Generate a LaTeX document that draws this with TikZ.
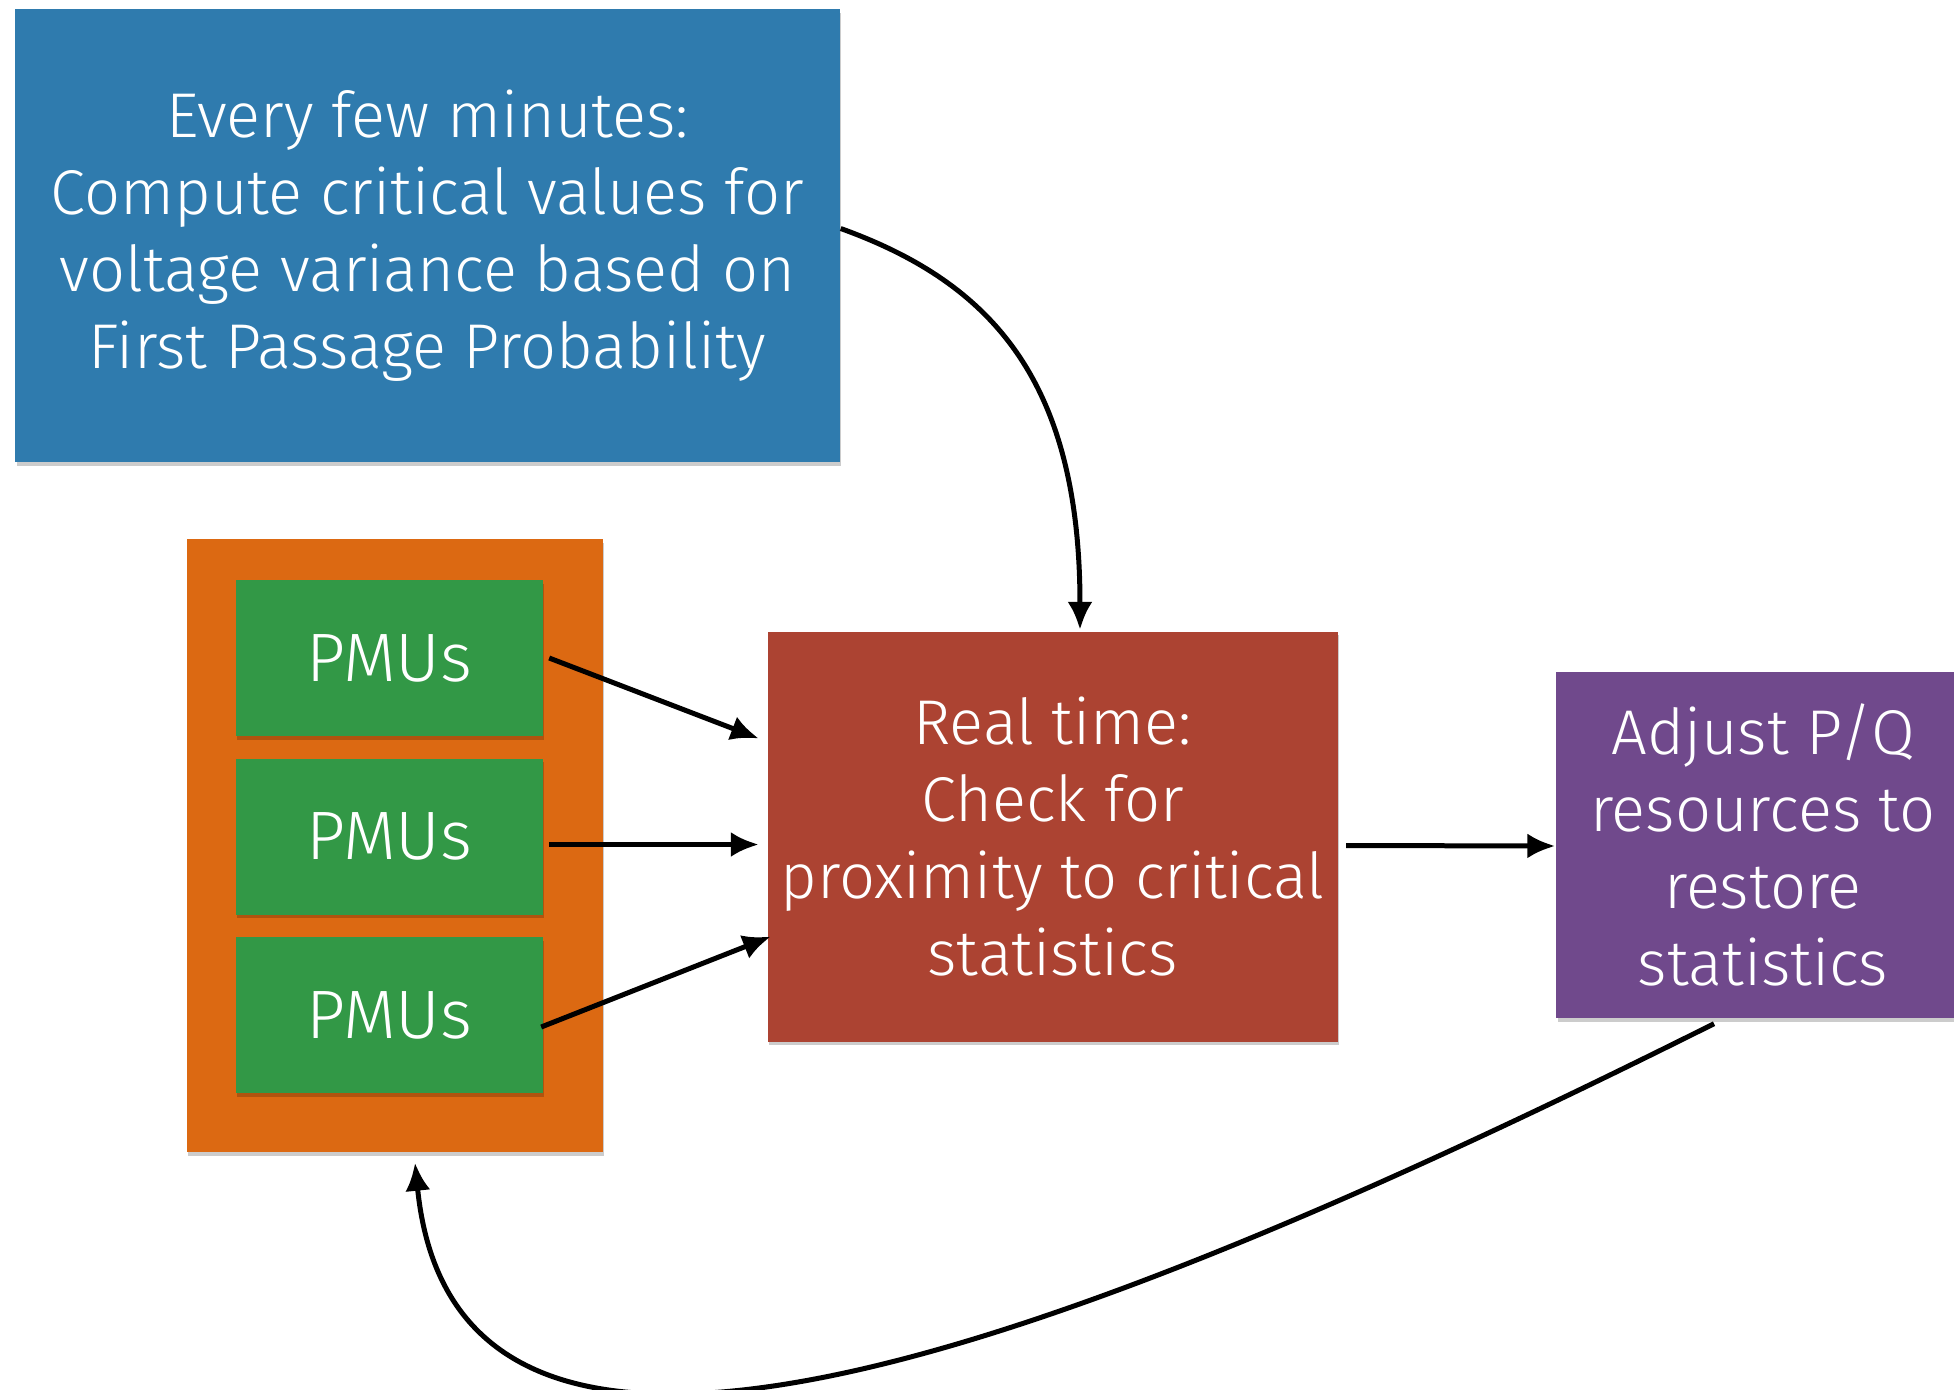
\documentclass[tikz,border=0pt]{standalone}
\usepackage{fontspec}
\setmainfont{Fira Sans Light}
\usepackage{tikz}
\usetikzlibrary{arrows.meta,shadows}

\definecolor{boxblue}{RGB}{47,123,174}
\definecolor{boxorange}{RGB}{220,105,18}
\definecolor{boxgreen}{RGB}{50,152,70}
\definecolor{boxred}{RGB}{172,67,50}
\definecolor{boxpurple}{RGB}{112,73,140}

\begin{document}
\begin{tikzpicture}[x=0.1mm, y=-0.1mm,
    box/.style={rectangle, inner sep=0pt, text=white, align=center,
      font=\fontsize{18}{21.9}\selectfont,
      drop shadow={shadow xshift=0.15mm, shadow yshift=-0.35mm, opacity=0.2, fill=black}},
    flow/.style={-{Latex[length=2.8mm,width=2.5mm]}, line width=0.5mm}]

    \clip (0,0) rectangle (1954,1389);

    \node[box, fill=boxblue, minimum width=82.5mm, minimum height=45.3mm] (every) at (427.5,235.5)
        {Every few minutes:\\Compute critical values for\\voltage variance based on\\First Passage Probability};

    \node[box, fill=boxorange, minimum width=41.6mm, minimum height=61.3mm] (sensors) at (394.5,845.5) {};

    \foreach \pos/\name in {{(389,658)/pmu1}, {(389,836.5)/pmu2}, {(389,1015)/pmu3}}
        \node[box, fill=boxgreen, minimum width=30.7mm, minimum height=15.6mm,
              font=\fontsize{19.5}{23}\selectfont] (\name) at \pos {PMUs};

    \node[box, fill=boxred, minimum width=57mm, minimum height=41mm] (realtime) at (1052.5,836.5)
        {Real time:\\Check for\\proximity to critical\\statistics};

    \node[box, fill=boxpurple, minimum width=41.4mm, minimum height=34.6mm] (adjust) at (1763,845)
        {Adjust P/Q\\resources to\\restore\\statistics};

    \draw[flow] ([shift={(0,-7)}]every.east) .. controls +(150,54) and +(0,-250) .. ([shift={(27.5,-1)}]realtime.north);

    \draw[flow] ([shift={(6,0)}]pmu1.east) -- ([shift={(-8,-98)}]realtime.west);
    \draw[flow] ([shift={(6,8)}]pmu2.east) -- ([shift={(-8,8)}]realtime.west);
    \draw[flow] ([shift={(-2,12)}]pmu3.east) -- ([shift={(4,100)}]realtime.west);

    \draw[flow] ([shift={(8,9)}]realtime.east) -- ([shift={(0,1)}]adjust.west);

    \draw[flow] ([shift={(-49,5)}]adjust.south) .. controls +(-714,357) and +(40,398) .. ([shift={(20.5,10)}]sensors.south);
\end{tikzpicture}
\end{document}
